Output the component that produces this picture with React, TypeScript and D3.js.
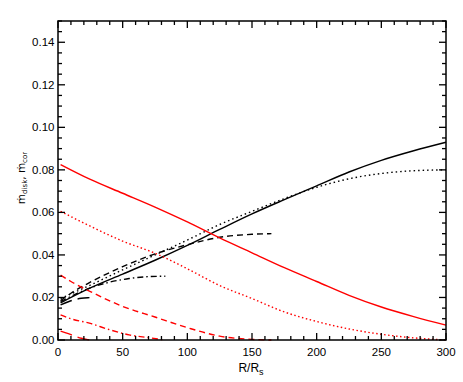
import { useEffect, useRef } from "react";
import * as d3 from "d3";

// R/Rs positions and accretion rates
const rSolid = [2, 25, 50, 75, 100, 125, 150, 175, 200, 225, 250, 275, 300];
const corSolid = [0.0175, 0.0245, 0.031, 0.0375, 0.0445, 0.052, 0.0593, 0.066, 0.0725, 0.079, 0.0845, 0.089, 0.093];
const diskSolid = [0.0825, 0.0755, 0.069, 0.0625, 0.0555, 0.048, 0.041, 0.034, 0.0275, 0.021, 0.0155, 0.011, 0.007];

const rDot = [2, 25, 50, 75, 100, 125, 150, 175, 200, 225, 250, 275, 300];
const corDot = [0.0195, 0.0258, 0.033, 0.04, 0.047, 0.0543, 0.0605, 0.0665, 0.0718, 0.0758, 0.0783, 0.0796, 0.08];
const diskDot = [0.0605, 0.0535, 0.0465, 0.0408, 0.0335, 0.0256, 0.0195, 0.0132, 0.0087, 0.0052, 0.0027, 0.001, 0.0];

const rDash = [2, 10, 25, 50, 75, 100, 125, 150, 165];
const corDash = [0.0185, 0.022, 0.0272, 0.0345, 0.0405, 0.0448, 0.0483, 0.0497, 0.05];
const diskDash = [0.0305, 0.0275, 0.0228, 0.0158, 0.0108, 0.0058, 0.0018, 0.0003, 0.0];

const rDashDot = [2, 10, 25, 40, 55, 70, 83];
const corDashDot = [0.018, 0.0205, 0.0245, 0.0272, 0.0289, 0.0298, 0.03];
const diskDashDot = [0.0118, 0.01, 0.0078, 0.0048, 0.0024, 0.0011, 0.0];

const rLong = [2, 8, 13, 18, 23, 28];
const corLong = [0.0165, 0.018, 0.019, 0.0196, 0.0199, 0.02];
const diskLong = [0.0042, 0.003, 0.0018, 0.0008, 0.0002, 0.0];

const xTicks = [0, 50, 100, 150, 200, 250, 300];
const yTicks = [0, 0.02, 0.04, 0.06, 0.08, 0.1, 0.12, 0.14];

function App() {
  const ref = useRef<SVGSVGElement>(null);

  useEffect(() => {
    const svg = d3.select(ref.current);
    svg.selectAll("*").remove();

    const margin = { top: 21, right: 17, bottom: 42, left: 58 };
    const width = 463;
    const height = 382;

    const x = d3.scaleLinear().domain([0, 300]).range([margin.left, width - margin.right]);
    const y = d3.scaleLinear().domain([0, 0.15]).range([height - margin.bottom, margin.top]);

    const font = "'Liberation Sans', Arial, sans-serif";

    const series = [
      { r: rSolid, v: corSolid, color: "#000", dash: null },
      { r: rDot, v: corDot, color: "#000", dash: "1.5,3" },
      { r: rDash, v: corDash, color: "#000", dash: "6,4" },
      { r: rDashDot, v: corDashDot, color: "#000", dash: "6,3,1.5,3" },
      { r: rLong, v: corLong, color: "#000", dash: "12,6" },
      { r: rSolid, v: diskSolid, color: "#ff0000", dash: null },
      { r: rDot, v: diskDot, color: "#ff0000", dash: "1.5,2.5" },
      { r: rDash, v: diskDash, color: "#ff0000", dash: "6,4" },
      { r: rDashDot, v: diskDashDot, color: "#ff0000", dash: "6,3,1.5,3" },
      { r: rLong, v: diskLong, color: "#ff0000", dash: "12,6" },
    ];

    const line = d3
      .line<[number, number]>()
      .x((d) => x(d[0]))
      .y((d) => y(d[1]))
      .curve(d3.curveMonotoneX);

    series.forEach((s) => {
      svg
        .append("path")
        .attr("d", line(s.r.map((r, i) => [r, s.v[i]] as [number, number])))
        .attr("fill", "none")
        .attr("stroke", s.color)
        .attr("stroke-width", 1.4)
        .attr("stroke-dasharray", s.dash);
    });

    const x0 = x(0), x1 = x(300), y0 = y(0), y1 = y(0.15);
    const ticks = svg.append("g").attr("stroke", "#000").attr("stroke-width", 1.3);

    // x ticks, bottom and top, pointing inward
    d3.range(0, 301, 10).forEach((t) => {
      const len = t % 50 === 0 ? 7 : 4;
      ticks.append("line").attr("x1", x(t)).attr("x2", x(t)).attr("y1", y0).attr("y2", y0 - len);
      ticks.append("line").attr("x1", x(t)).attr("x2", x(t)).attr("y1", y1).attr("y2", y1 + len);
    });
    // y ticks, left and right
    d3.range(0, 31).forEach((k) => {
      const t = k * 0.005;
      const len = k % 4 === 0 ? 7 : 4;
      ticks.append("line").attr("x1", x0).attr("x2", x0 + len).attr("y1", y(t)).attr("y2", y(t));
      ticks.append("line").attr("x1", x1).attr("x2", x1 - len).attr("y1", y(t)).attr("y2", y(t));
    });

    svg
      .append("rect")
      .attr("x", x0)
      .attr("y", y1)
      .attr("width", x1 - x0)
      .attr("height", y0 - y1)
      .attr("fill", "none")
      .attr("stroke", "#000")
      .attr("stroke-width", 1.5);

    svg
      .append("g")
      .selectAll("text")
      .data(xTicks)
      .enter()
      .append("text")
      .attr("x", (d) => x(d))
      .attr("y", 356)
      .attr("text-anchor", "middle")
      .attr("font-family", font)
      .attr("font-size", 11.5)
      .text((d) => d3.format("d")(d));

    svg
      .append("g")
      .selectAll("text")
      .data(yTicks)
      .enter()
      .append("text")
      .attr("x", 54.5)
      .attr("y", (d) => y(d) + 4)
      .attr("text-anchor", "end")
      .attr("font-family", font)
      .attr("font-size", 11.5)
      .text((d) => d3.format(".2f")(d));

    const xl = svg
      .append("text")
      .attr("x", 251)
      .attr("y", 372)
      .attr("text-anchor", "middle")
      .attr("font-family", font)
      .attr("font-size", 12);
    xl.append("tspan").text("R/R");
    xl.append("tspan").attr("font-size", 9).attr("dy", 3).text("s");

    const yl = svg
      .append("text")
      .attr("transform", "translate(25,178) rotate(-90)")
      .attr("text-anchor", "middle")
      .attr("font-family", "'DejaVu Sans', sans-serif")
      .attr("font-size", 10.5);
    yl.append("tspan").text("\u1E41");
    yl.append("tspan").attr("font-size", 7).attr("dy", 2).text("disk");
    yl.append("tspan").attr("dy", -2).text(", \u1E41");
    yl.append("tspan").attr("font-size", 7).attr("dy", 2).text("cor");
  }, []);

  return (
    <svg
      ref={ref}
      width={463}
      height={382}
      style={{ position: "absolute", left: 0, top: 0, background: "#fff" }}
    ></svg>
  );
}

export default App;
